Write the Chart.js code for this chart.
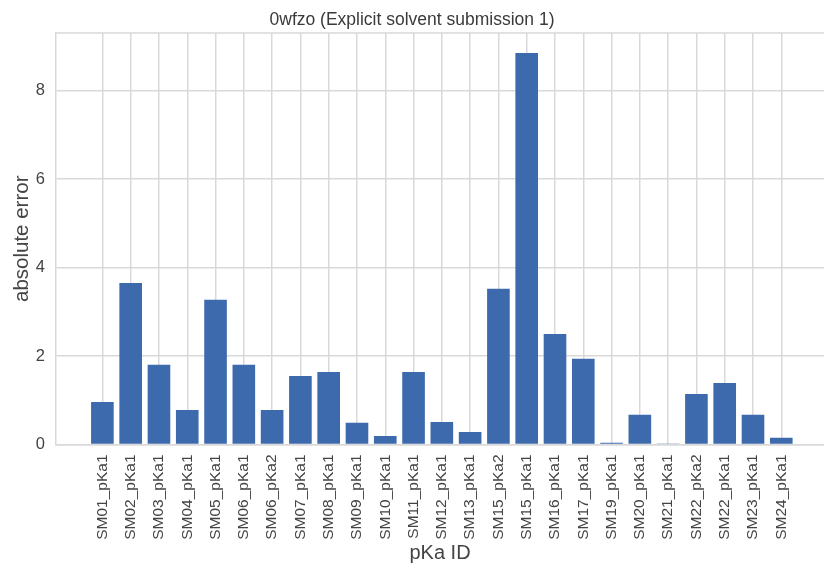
<!DOCTYPE html>
<html>
<head>
<meta charset="utf-8">
<script src="https://cdn.jsdelivr.net/npm/chart.js@4/dist/chart.umd.min.js"></script>
<style>
html,body{margin:0;padding:0;background:#fff;}
#wrap{width:824px;height:567px;}
</style>
</head>
<body>
<div id="wrap"><canvas id="c" width="824" height="567"></canvas></div>
<script>
const pkaLabels = ["SM01_pKa1","SM02_pKa1","SM03_pKa1","SM04_pKa1","SM05_pKa1","SM06_pKa1","SM06_pKa2","SM07_pKa1","SM08_pKa1","SM09_pKa1","SM10_pKa1","SM11_pKa1","SM12_pKa1","SM13_pKa1","SM15_pKa2","SM15_pKa1","SM16_pKa1","SM17_pKa1","SM19_pKa1","SM20_pKa1","SM21_pKa1","SM22_pKa2","SM22_pKa1","SM23_pKa1","SM24_pKa1"];
const absErrors = [0.96,3.65,1.80,0.78,3.27,1.80,0.78,1.55,1.64,0.49,0.19,1.64,0.51,0.28,3.52,8.85,2.50,1.94,0.04,0.67,0.01,1.14,1.39,0.67,0.15];
const yTicks = [0,2,4,6,8];
const chartTitle = "0wfzo (Explicit solvent submission 1)";
const xTitle = "pKa ID";
const yTitle = "absolute error";

const FONT = "'Liberation Sans', Arial, sans-serif";
const GRID = "#d9d9d9";
const TXT = "#444444";

const topBorder = {
  id: 'topBorder',
  afterDraw(chart) {
    const {ctx, chartArea} = chart;
    ctx.save();
    ctx.strokeStyle = GRID;
    ctx.lineWidth = 1.5;
    ctx.beginPath();
    ctx.moveTo(chartArea.left, chartArea.top);
    ctx.lineTo(chartArea.right, chartArea.top);
    ctx.stroke();
    ctx.restore();
  }
};

new Chart(document.getElementById('c'), {
  type: 'bar',
  data: {
    datasets: [{
      data: absErrors.map((v, i) => ({x: i, y: v})),
      backgroundColor: '#3c6aad',
      borderWidth: 0,
      categoryPercentage: 1.0,
      barPercentage: 0.8
    }]
  },
  options: {
    responsive: false,
    animation: false,
    layout: {padding: 0},
    plugins: {
      legend: {display: false},
      tooltip: {enabled: false},
      title: {
        display: true,
        text: chartTitle,
        color: '#3a3a3a',
        font: {family: FONT, size: 17.5, weight: 'normal'},
        padding: {top: 9.5, bottom: 2.5}
      }
    },
    scales: {
      x: {
        type: 'linear',
        min: -1.64,
        max: 25.51,
        offset: false,
        afterBuildTicks(axis) {
          axis.ticks = axis.ticks.filter(t => Number.isInteger(t.value) && t.value >= 0 && t.value < pkaLabels.length);
        },
        afterFit(axis) { axis.height = 122.5; },
        ticks: {
          stepSize: 1,
          maxTicksLimit: 100,
          includeBounds: false,
          autoSkip: false,
          minRotation: 90,
          maxRotation: 90,
          padding: 10,
          color: TXT,
          font: {family: FONT, size: 15.5},
          callback: (v) => pkaLabels[v] ?? ''
        },
        grid: {color: GRID, lineWidth: 1.5, drawTicks: false, offset: false},
        border: {color: GRID, width: 1.5},
        title: {
          display: true,
          text: xTitle,
          color: TXT,
          font: {family: FONT, size: 20},
          padding: {top: 0, bottom: 2}
        }
      },
      y: {
        min: 0,
        max: 9.3,
        afterBuildTicks(axis) {
          axis.ticks = yTicks.map(v => ({value: v}));
        },
        afterFit(axis) { axis.width = 56; },
        ticks: {
          padding: 11,
          color: TXT,
          font: {family: FONT, size: 16.5},
          callback: (v) => String(v)
        },
        grid: {color: GRID, lineWidth: 1.5, drawTicks: false},
        border: {color: GRID, width: 1.5},
        title: {
          display: true,
          text: yTitle,
          color: TXT,
          font: {family: FONT, size: 20.5},
          padding: {top: 10, bottom: 0}
        }
      }
    }
  },
  plugins: [topBorder]
});
</script>
</body>
</html>
